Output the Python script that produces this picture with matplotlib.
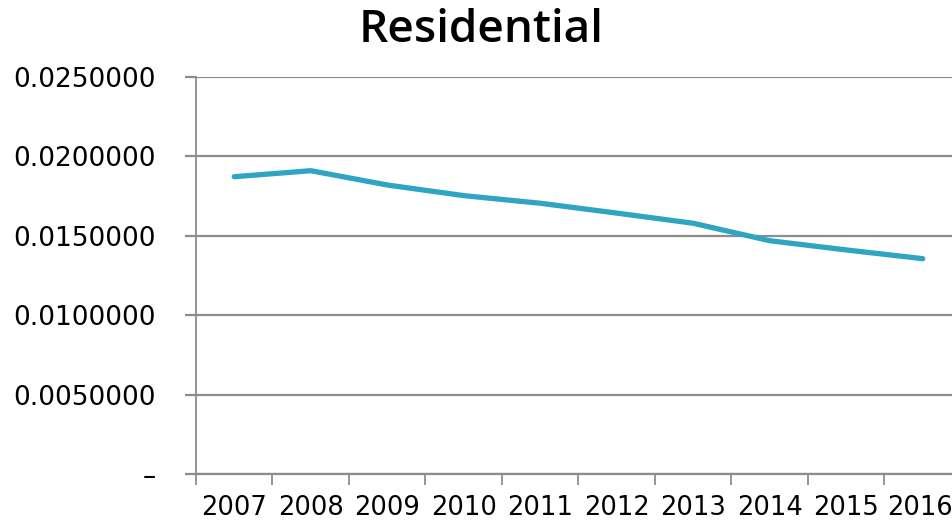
import matplotlib
matplotlib.use("Agg")
import matplotlib.pyplot as plt
import matplotlib.transforms as mtransforms
import numpy as np

years = ["2007", "2008", "2009", "2010", "2011", "2012", "2013", "2014", "2015", "2016"]
values = [0.01872, 0.01910, 0.01820, 0.01753, 0.01705, 0.01643, 0.01579, 0.01469, 0.01411, 0.01356]
yticks = [0.0, 0.005, 0.010, 0.015, 0.020, 0.025]
ytick_labels = ["–", "0.0050000", "0.0100000", "0.0150000", "0.0200000", "0.0250000"]
title = "Residential"

plt.rcParams['font.family'] = ['DejaVu Sans']
W, H = 953, 528
fig = plt.figure(figsize=(W / 100, H / 100), dpi=100)
ax = fig.add_axes([196 / W, 1 - 474 / H, 765 / W, 397 / H])

grid_c = "#8c8c8c"
line_c = "#2fa5c1"
x = np.arange(len(years))
ax.plot(x, values, color=line_c, lw=3.8, solid_capstyle="round", solid_joinstyle="round", zorder=3)

ax.set_xlim(-0.5, len(years) - 0.5)
ax.set_ylim(0, 0.025)
ax.set_yticks(yticks)
ax.set_yticklabels(ytick_labels)
ax.yaxis.grid(True, color=grid_c, lw=1.6)
ax.set_axisbelow(True)

ax.set_xticks(np.arange(-0.5, len(years)), minor=False)
ax.set_xticklabels([])
ax.set_xticks(x, minor=True)
ax.set_xticklabels(years, minor=True)
ax.tick_params(axis="x", which="major", length=8, width=1.3, color=grid_c, direction="out")
ax.tick_params(axis="x", which="minor", length=0, pad=15, labelsize=18.5)
ax.tick_params(axis="y", length=8, width=1.6, color=grid_c, pad=21, labelsize=19)

# keep the last year label inside the figure edge
last = ax.get_xticklabels(minor=True)[-1]
last.set_transform(last.get_transform() + mtransforms.ScaledTranslation(-3 / 100, 0, fig.dpi_scale_trans))

for s in ["top", "right"]:
    ax.spines[s].set_visible(False)
ax.spines["left"].set_color(grid_c)
ax.spines["left"].set_linewidth(1.3)
ax.spines["bottom"].set_color(grid_c)
ax.spines["bottom"].set_linewidth(1.6)

fig.text(481 / W, 1 - 30 / H, title, ha="center", va="center", fontsize=33,
         fontweight="semibold", family=["Open Sans", "DejaVu Sans"])

fig.savefig("out.png", dpi=100)
